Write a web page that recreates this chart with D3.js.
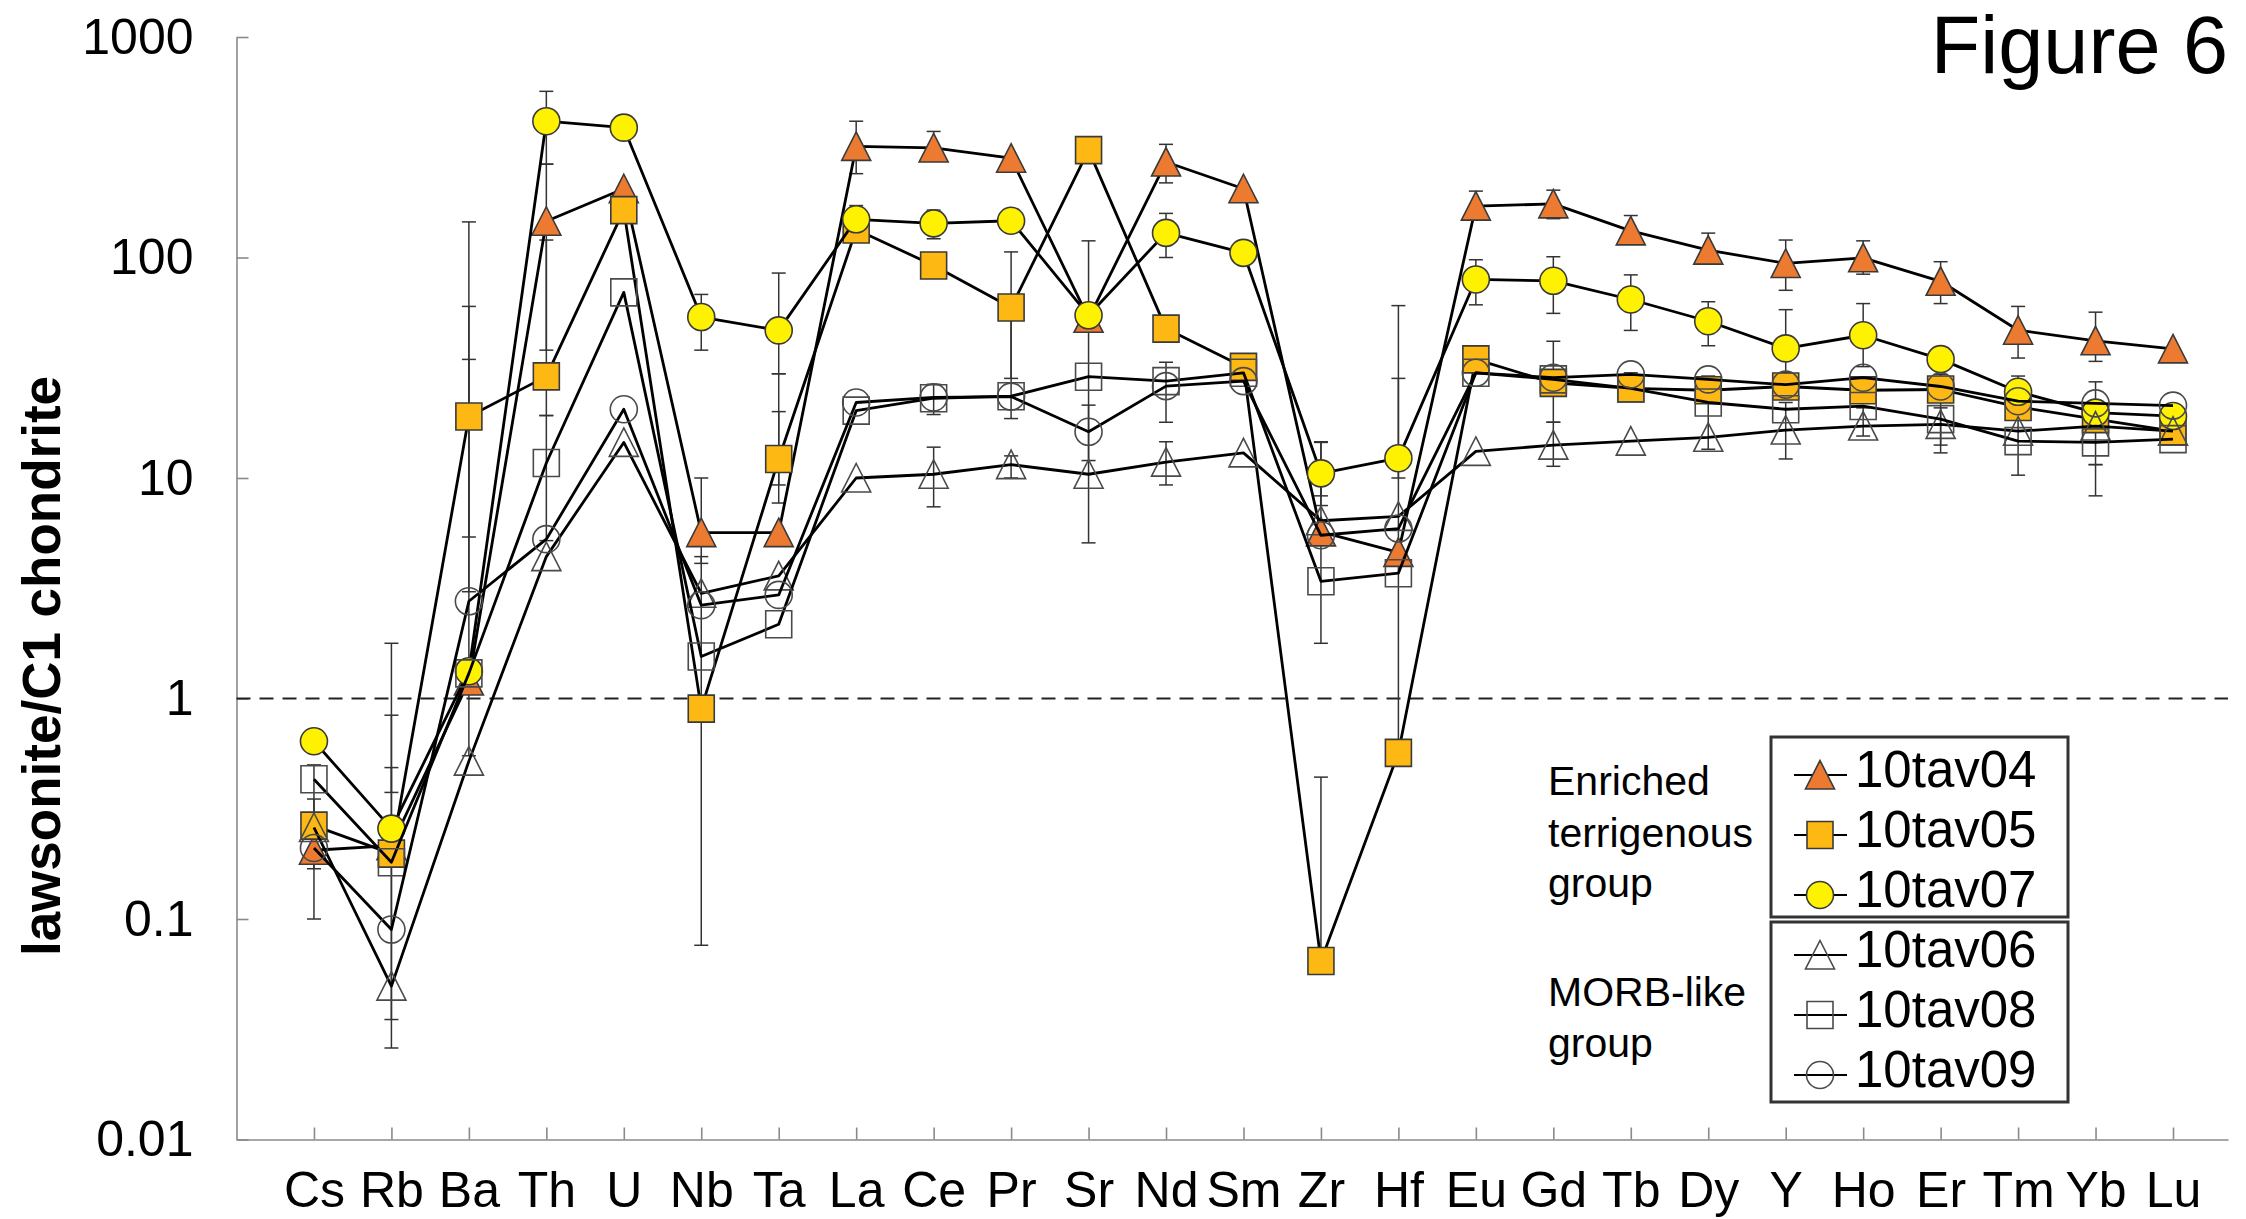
<!DOCTYPE html>
<html>
<head>
<meta charset="utf-8">
<script src="https://cdn.jsdelivr.net/npm/d3@7/dist/d3.min.js"></script>
<style>
  html, body { margin: 0; padding: 0; background: #fff; }
  svg { display: block; font-family: "Liberation Sans", Arial, Helvetica, sans-serif; }
</style>
</head>
<body>
<svg id="chart" width="2246" height="1219"></svg>
<script>
// elements on the x axis (spider diagram order)
let elements = ["Cs","Rb","Ba","Th","U","Nb","Ta","La","Ce","Pr","Sr","Nd","Sm","Zr","Hf",
                "Eu","Gd","Tb","Dy","Y","Ho","Er","Tm","Yb","Lu"];
let yTicks = [0.01, 0.1, 1, 10, 100, 1000];

// lawsonite / C1 chondrite
let tav04 = [0.205, 0.215, 1.2, 146, 205, 5.65, 5.65, 319, 314, 282, 53, 271, 205, 5.7, 4.6,
             171, 175, 132, 108, 94, 99.7, 78, 46.8, 41.9, 38.5];
let tav05 = [0.265, 0.198, 19, 28.9, 164, 0.9, 12.2, 134, 92, 59.3, 307, 47.6, 31.9, 0.0645, 0.567,
             34.5, 27, 25.5, 25, 26, 25, 25.2, 21, 18.5, 16.3];
let tav07 = [0.64, 0.257, 1.33, 415, 388, 53.7, 46.7, 149, 142.8, 146.8, 54.7, 129.3, 105, 10.5, 12.3,
             79.5, 78.4, 64.5, 51.4, 38.7, 44.4, 34.6, 24.6, 19.8, 19.1];
let tav06 = [0.26, 0.0496, 0.52, 4.4, 14.5, 3.0, 3.6, 10, 10.4, 11.5, 10.4, 11.8, 13, 6.4, 6.7,
             13.2, 14.1, 14.7, 15.3, 16.5, 17.2, 17.5, 16.3, 17.2, 16.3];
let tav08 = [0.43, 0.181, 1.3, 11.7, 69.5, 1.55, 2.17, 20.2, 23, 23.5, 28.8, 27.5, 30, 3.4, 3.7,
             30, 28, 25.5, 22, 20.5, 21.2, 18.5, 14.7, 14.5, 15];
let tav09 = [0.21, 0.0896, 2.76, 5.28, 20.5, 2.65, 2.95, 22, 23.2, 23.4, 16.2, 26.1, 27.5, 5.5, 5.9,
             30, 28.5, 29.5, 28, 26.5, 28.5, 26, 22.3, 21.8, 21.3];

// error bars: [element, low, high]
let errorBars = [
  ["Cs", 0.1, 0.5], ["Cs", 0.169, 0.35],
  ["Rb", 0.026, 1.78], ["Rb", 0.035, 0.84], ["Rb", 0.375, 0.486],
  ["Ba", 0.55, 145], ["Ba", 5.4, 60], ["Ba", 3.05, 34.5],
  ["Th", 265, 567], ["Th", 38, 265], ["Th", 19.2, 120], ["Th", 5.2, 19.2],
  ["Nb", 38, 68], ["Nb", 4.1, 10], ["Nb", 0.076, 4.4],
  ["Ta", 29.7, 85], ["Ta", 7.7, 29.7], ["Ta", 9.3, 20],
  ["La", 240, 415], ["La", 125, 172],
  ["Ce", 276, 373], ["Ce", 121.6, 164], ["Ce", 19.4, 26.6], ["Ce", 7.4, 13.8],
  ["Pr", 18.6, 106], ["Pr", 28.3, 60], ["Pr", 10, 12.6],
  ["Sr", 5.08, 119], ["Sr", 12, 21.4],
  ["Nd", 218, 326], ["Nd", 100, 158.5], ["Nd", 17.9, 33.5], ["Nd", 9.3, 14.6],
  ["Zr", 7.5, 14.5], ["Zr", 1.78, 14.6], ["Zr", 8.3, 11], ["Zr", 0.0645, 0.44],
  ["Hf", 0.567, 60.5], ["Hf", 10, 28.3],
  ["Eu", 150, 200], ["Eu", 61, 97.7],
  ["Gd", 150, 202], ["Gd", 55.8, 100.8], ["Gd", 11.3, 41.7], ["Gd", 17.9, 17.9],
  ["Tb", 115, 155], ["Tb", 46.7, 83.4], ["Tb", 24, 30],
  ["Dy", 95, 129], ["Dy", 39.8, 63], ["Dy", 13.5, 29],
  ["Y", 71, 120], ["Y", 30, 58], ["Y", 12.2, 22],
  ["Ho", 84, 119], ["Ho", 32, 61.8], ["Ho", 15.5, 20.8],
  ["Er", 61.8, 95.7], ["Er", 13, 29.5], ["Er", 14.1, 20.8],
  ["Tm", 35, 60], ["Tm", 10.3, 29],
  ["Yb", 33.8, 56.5], ["Yb", 8.3, 27.3], ["Yb", 11.5, 11.5]
];

let series = [
  { name: "10tav04", values: tav04, shape: "triangle", fill: "#ED7A31" },
  { name: "10tav05", values: tav05, shape: "square",   fill: "#FDB813" },
  { name: "10tav07", values: tav07, shape: "circle",   fill: "#FFF200" },
  { name: "10tav06", values: tav06, shape: "triangle", fill: "none" },
  { name: "10tav08", values: tav08, shape: "square",   fill: "none" },
  { name: "10tav09", values: tav09, shape: "circle",   fill: "none" }
];

let svg = d3.select("#chart");

let x = d3.scaleLinear().domain([-1, 24.71]).range([236.5, 2228]);
let y = d3.scaleLog().domain([0.01, 1000]).range([1139.5, 37]);

function shapePath(shape) {
  if (shape == "triangle") return "M0,-14.5L14.5,14L-14.5,14Z";
  if (shape == "square") return "M-13,-13.5H13V13.5H-13Z";
  return "M13.5,0A13.5,13.5 0 1,1 -13.5,0A13.5,13.5 0 1,1 13.5,0Z";
}

// axes
let yAxis = d3.axisLeft(y).tickValues(yTicks).tickFormat(d => String(d))
  .tickSizeInner(-12).tickSizeOuter(0).tickPadding(43);
let gy = svg.append("g").attr("transform", "translate(" + x(-1) + ",0)").call(yAxis);

let xAxis = d3.axisBottom(x).tickValues(d3.range(elements.length)).tickFormat(i => elements[i])
  .tickSizeInner(-12).tickSizeOuter(0).tickPadding(31.5);
let gx = svg.append("g").attr("transform", "translate(0," + y(0.01) + ")").call(xAxis);

[gx, gy].forEach(function(g) {
  g.select(".domain").attr("stroke", "#8a8a8a").attr("stroke-width", 1.6);
  g.selectAll(".tick line").attr("stroke", "#8a8a8a").attr("stroke-width", 1.6);
  g.selectAll(".tick text").attr("fill", "#000").attr("font-size", 50)
    .attr("font-family", "'Liberation Sans', Arial, sans-serif");
});

// axis title
svg.append("text")
  .attr("transform", "translate(60," + 666 + ") rotate(-90)")
  .attr("text-anchor", "middle")
  .attr("font-size", 53)
  .attr("font-weight", "bold")
  .text("lawsonite/C1 chondrite");

svg.append("text")
  .attr("x", 2228).attr("y", 73)
  .attr("text-anchor", "end")
  .attr("font-size", 81)
  .text("Figure 6");

// chondrite = 1 reference line
svg.append("line")
  .attr("x1", x(-1)).attr("x2", x(24.71))
  .attr("y1", y(1)).attr("y2", y(1))
  .attr("stroke", "#222").attr("stroke-width", 2.2)
  .attr("stroke-dasharray", "14,9");

// error bars (under everything)
let eb = svg.append("g").attr("stroke", "#333").attr("stroke-width", 1.5);
errorBars.forEach(function(e) {
  let cx = x(elements.indexOf(e[0]));
  eb.append("line").attr("x1", cx).attr("x2", cx).attr("y1", y(e[1])).attr("y2", y(e[2]));
  [e[1], e[2]].forEach(function(v) {
    eb.append("line").attr("x1", cx - 7).attr("x2", cx + 7).attr("y1", y(v)).attr("y2", y(v));
  });
});

let line = d3.line().x((d, i) => x(i)).y(d => y(d));

series.forEach(function(s) {
  let g = svg.append("g");
  g.append("path")
    .attr("d", line(s.values))
    .attr("fill", "none")
    .attr("stroke", "#000")
    .attr("stroke-width", 2.8)
    .attr("stroke-linejoin", "round");
  g.selectAll(".pt")
    .data(s.values).enter()
    .append("path")
    .attr("class", "pt")
    .attr("transform", (d, i) => "translate(" + x(i) + "," + y(d) + ")")
    .attr("d", shapePath(s.shape))
    .attr("fill", s.fill)
    .attr("stroke", s.fill == "none" ? "#4a4a4a" : "#3a3a3a")
    .attr("stroke-width", 1.6);
});

// legend
let legendBoxes = [[737, 917], [922, 1102]];
legendBoxes.forEach(function(b) {
  svg.append("rect")
    .attr("x", 1771).attr("y", b[0])
    .attr("width", 297).attr("height", b[1] - b[0])
    .attr("fill", "none").attr("stroke", "#333").attr("stroke-width", 3);
});

let legendRows = [775, 835, 895, 955, 1015, 1075];
series.forEach(function(s, i) {
  let cy = legendRows[i];
  svg.append("line")
    .attr("x1", 1794).attr("x2", 1847).attr("y1", cy).attr("y2", cy)
    .attr("stroke", "#000").attr("stroke-width", 2);
  svg.append("path")
    .attr("transform", "translate(1820," + cy + ")")
    .attr("d", shapePath(s.shape))
    .attr("fill", s.fill)
    .attr("stroke", s.fill == "none" ? "#4a4a4a" : "#3a3a3a")
    .attr("stroke-width", 1.6);
  svg.append("text")
    .attr("x", 1855).attr("y", cy + 12)
    .attr("font-size", 51)
    .text(s.name);
});

let groupLabels = [["Enriched", 795], ["terrigenous", 847], ["group", 897], ["MORB-like", 1006], ["group", 1057]];
groupLabels.forEach(function(t) {
  svg.append("text")
    .attr("x", 1548).attr("y", t[1])
    .attr("font-size", 41)
    .text(t[0]);
});
</script>
</body>
</html>
